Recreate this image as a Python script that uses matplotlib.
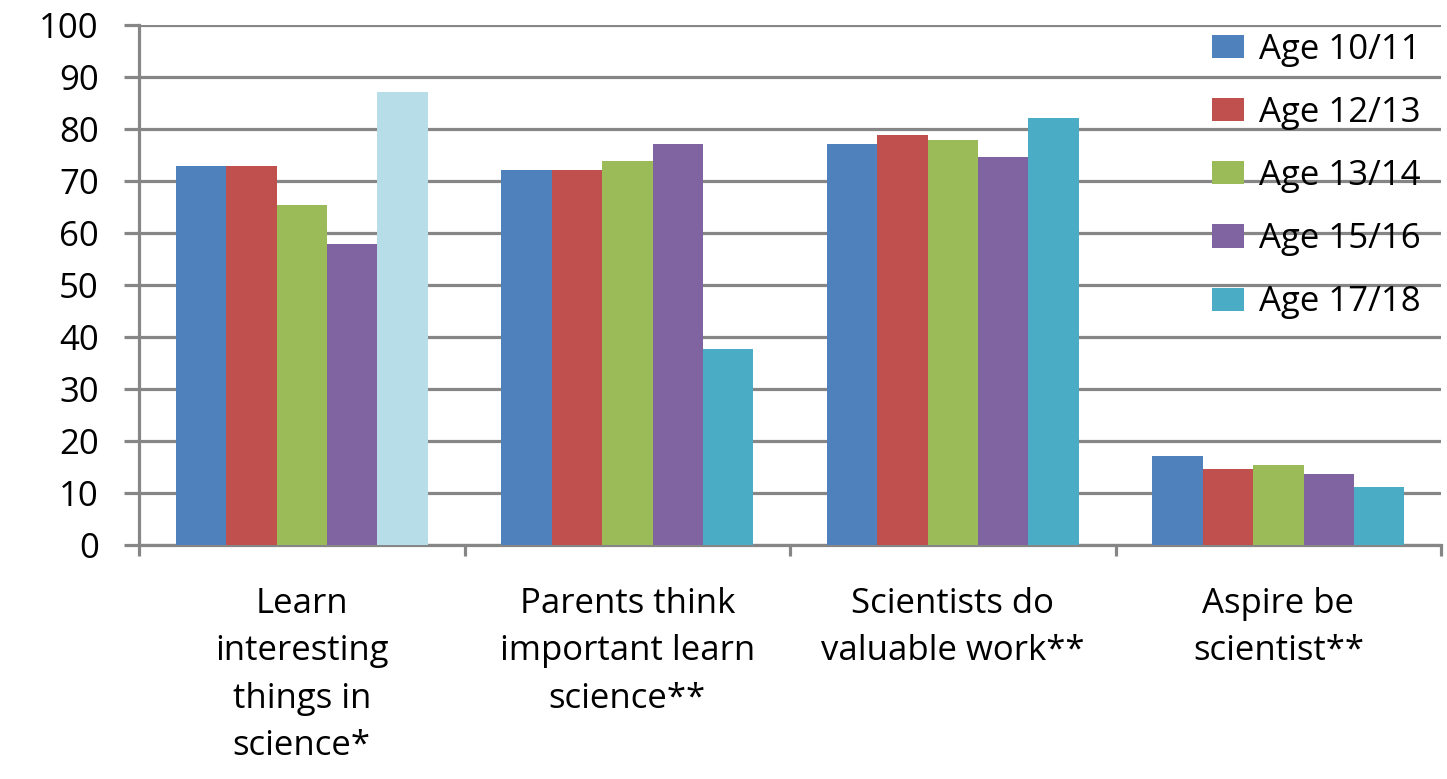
import numpy as np
import matplotlib.pyplot as plt
from matplotlib.patches import Patch

# categories and series
categories = ['Learn\ninteresting\nthings in\nscience*',
              'Parents think\nimportant learn\nscience**',
              'Scientists do\nvaluable work**',
              'Aspire be\nscientist**']
series_names = ['Age 10/11', 'Age 12/13', 'Age 13/14', 'Age 15/16', 'Age 17/18']
age_10_11 = [72.9, 72.2, 77.1, 17.1]
age_12_13 = [72.9, 72.2, 78.8, 14.6]
age_13_14 = [65.4, 73.9, 77.9, 15.3]
age_15_16 = [57.9, 77.1, 74.6, 13.7]
age_17_18 = [87.1, 37.7, 82.1, 11.2]
values = [age_10_11, age_12_13, age_13_14, age_15_16, age_17_18]

colors = ['#4F81BD', '#C0504D', '#9BBB59', '#8064A2', '#4BACC6']
first_17_18_color = '#B7DDE8'  # first group's last bar is lighter
grid_col = '#868686'

plt.rcParams['font.family'] = ['Open Sans', 'DejaVu Sans']

fig = plt.figure(figsize=(14.47, 7.79), dpi=100)
ax = fig.add_axes([0.0961, 0.3004, 0.8998, 0.6676])

x = np.arange(len(categories))
w = 0.155
for i, (vals, col) in enumerate(zip(values, colors)):
    bar_cols = [col] * len(vals)
    if i == 4:
        bar_cols[0] = first_17_18_color
    ax.bar(x + (i - 2) * w, vals, width=w, color=bar_cols, zorder=3)

ax.set_xlim(-0.5, len(categories) - 0.5)
ax.set_ylim(0, 100)
ax.set_yticks(range(0, 101, 10))
ax.yaxis.grid(True, color=grid_col, linewidth=2.3, zorder=0)
ax.set_axisbelow(True)

for s in ['top', 'right']:
    ax.spines[s].set_visible(False)
for s in ['left', 'bottom']:
    ax.spines[s].set_color(grid_col)
    ax.spines[s].set_linewidth(2.3)

ax.tick_params(axis='y', length=11, width=2.3, color=grid_col, pad=18, labelsize=25)
# group boundaries as major ticks, labels on minor ticks at centres
ax.set_xticks(np.arange(-0.5, len(categories), 1.0))
ax.set_xticklabels([])
ax.set_xticks(x, minor=True)
ax.set_xticklabels(categories, minor=True, fontsize=25, linespacing=1.52)
ax.tick_params(axis='x', which='major', length=8, width=2.3, color=grid_col, direction='out')
ax.tick_params(axis='x', which='minor', length=0, pad=30)

handles = [Patch(facecolor=c, label=n) for c, n in zip(colors, series_names)]
ax.legend(handles=handles, loc='upper right', bbox_to_anchor=(1.0, 1.025), frameon=False,
          fontsize=25, handlelength=0.9, handleheight=0.65, labelspacing=0.84, handletextpad=0.43,
          borderaxespad=0.2)

plt.savefig('out.png', dpi=100)
